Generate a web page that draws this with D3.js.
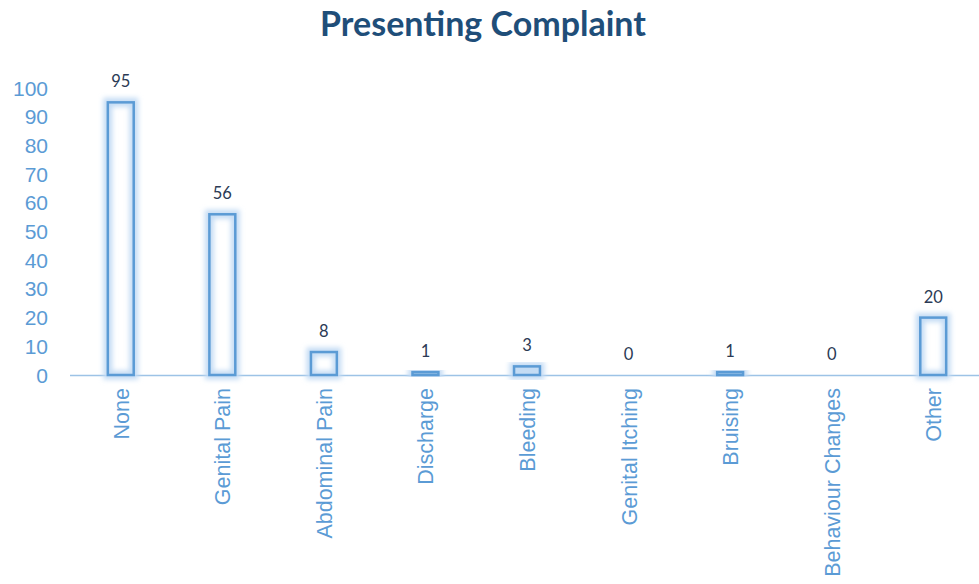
<!DOCTYPE html>
<html>
<head>
<meta charset="utf-8">
<script src="https://cdn.jsdelivr.net/npm/d3@7/dist/d3.min.js"></script>
<style>
  html, body { margin: 0; padding: 0; background: #fff; }
  svg { display: block; }
</style>
</head>
<body>
<svg id="chart" width="979" height="584"></svg>
<script>
  'use strict';

  // chart data
  const categories = ['None', 'Genital Pain', 'Abdominal Pain', 'Discharge', 'Bleeding',
    'Genital Itching', 'Bruising', 'Behaviour Changes', 'Other'];
  const counts = [95, 56, 8, 1, 3, 0, 1, 0, 20];
  const yTicks = [0, 10, 20, 30, 40, 50, 60, 70, 80, 90, 100];
  const title = 'Presenting Complaint';

  const W = 979, H = 584;
  const BASE = 375, TOP = 88;      // y positions of 0 and 100
  const LEFT = 70, RIGHT = 984;    // plot area spans slightly past the window

  const svg = d3.select('#chart');

  // glow filter used behind the bar outlines
  const defs = svg.append('defs');
  defs.append('filter')
    .attr('id', 'glow')
    .attr('x', '-50%').attr('y', '-50%').attr('width', '200%').attr('height', '200%')
    .append('feGaussianBlur').attr('stdDeviation', 2.8);

  const x = d3.scaleBand().domain(categories).range([LEFT, RIGHT]).paddingInner(0.745).paddingOuter(0.3725);
  const y = d3.scaleLinear().domain([0, 100]).range([BASE, TOP]);

  svg.append('text')
    .attr('x', 483).attr('y', 36)
    .attr('text-anchor', 'middle')
    .style('font-family', 'Lato, "Open Sans", sans-serif')
    .style('font-weight', 700)
    .style('font-size', '34px')
    .style('fill', '#1f4e79')
    .text(title);

  // y tick labels (no gridlines, no axis line)
  svg.append('g').selectAll('text').data(yTicks).join('text')
    .attr('x', 48)
    .attr('y', d => y(d))
    .attr('dy', '0.36em')
    .attr('text-anchor', 'end')
    .style('font-family', '"Liberation Sans", Arial, sans-serif')
    .style('font-size', '21px')
    .style('fill', '#5b9bd5')
    .text(d => d);

  // baseline
  svg.append('line')
    .attr('x1', LEFT).attr('x2', W)
    .attr('y1', BASE + 0.5).attr('y2', BASE + 0.5)
    .style('stroke', '#9dc3e6').style('stroke-width', 1.5);

  const bars = svg.append('g').selectAll('g').data(categories.map((c, i) => ({ c, v: counts[i] }))).join('g');

  // soft glow
  bars.filter(d => d.v > 0).append('rect')
    .attr('x', d => x(d.c))
    .attr('y', d => y(d.v))
    .attr('width', x.bandwidth())
    .attr('height', d => BASE - y(d.v))
    .attr('filter', 'url(#glow)')
    .style('fill', 'none')
    .style('stroke', '#c4dcf4')
    .style('stroke-width', 9);

  // outline
  bars.filter(d => d.v > 0).append('rect')
    .attr('x', d => x(d.c))
    .attr('y', d => y(d.v))
    .attr('width', x.bandwidth())
    .attr('height', d => BASE - y(d.v))
    .style('fill', 'none')
    .style('stroke', '#5b9bd5')
    .style('stroke-width', 2.5);

  // value labels
  bars.append('text')
    .attr('x', d => x(d.c) + x.bandwidth() / 2)
    .attr('y', d => y(d.v) - 15)
    .attr('text-anchor', 'middle')
    .style('font-family', 'Lato, "Open Sans", sans-serif')
    .style('font-size', '16.5px')
    .style('fill', '#2b3a55')
    .text(d => d.v);

  // rotated category labels
  svg.append('g').selectAll('text').data(categories).join('text')
    .attr('transform', d => 'translate(' + (x(d) + x.bandwidth() / 2 + 8) + ',' + (BASE + 13) + ') rotate(-90)')
    .attr('text-anchor', 'end')
    .style('font-family', '"Liberation Sans", Arial, sans-serif')
    .style('font-size', '21.5px')
    .style('fill', '#5b9bd5')
    .text(d => d);
</script>
</body>
</html>
